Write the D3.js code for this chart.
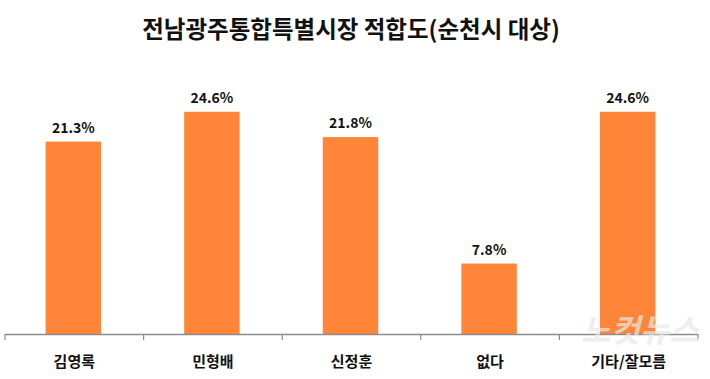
<!DOCTYPE html>
<html>
<head>
<meta charset="utf-8">
<script src="https://cdn.jsdelivr.net/npm/d3@7"></script>
<style>
  body { margin: 0; background: #fff; }
  text { font-family: "Noto Sans CJK KR", "Noto Sans", sans-serif; }
</style>
</head>
<body>
<script>
let categories = ["김영록", "민형배", "신정훈", "없다", "기타/잘모름"];
let values = [21.3, 24.6, 21.8, 7.8, 24.6];
let titleText = "전남광주통합특별시장 적합도(순천시 대상)";

let width = 710,
    height = 379;

const svg = d3.select("body")
    .append("svg")
    .attr("width", width)
    .attr("height", height);

const xScale = d3.scaleBand()
    .domain(categories)
    .range([5, 698])
    .paddingInner(0.6)
    .paddingOuter(0.3);

const yScale = d3.scaleLinear()
    .domain([0, 30])
    .range([334, 63]);

// title
svg.append("text")
    .attr("x", 351)
    .attr("y", 38)
    .attr("text-anchor", "middle")
    .style("font-size", "23.5px")
    .style("font-weight", "bold")
    .style("fill", "#111")
    .text(titleText);

// bars
svg.selectAll("rect.bar")
    .data(values)
    .enter()
    .append("rect")
    .attr("class", "bar")
    .attr("x", (d, i) => xScale(categories[i]) - 1)
    .attr("y", d => yScale(d))
    .attr("width", xScale.bandwidth())
    .attr("height", d => yScale(0) - yScale(d))
    .attr("fill", "#FF8638");

// value labels
svg.selectAll("text.val")
    .data(values)
    .enter()
    .append("text")
    .attr("class", "val")
    .attr("x", (d, i) => xScale(categories[i]) - 1 + xScale.bandwidth() / 2)
    .attr("y", d => yScale(d) - 9)
    .attr("text-anchor", "middle")
    .style("font-size", "14px")
    .style("font-weight", "bold")
    .style("fill", "#111")
    .text(d => d.toFixed(1) + "%");

// axis with tick marks between categories
const axisG = svg.append("g")
    .attr("transform", "translate(0," + yScale(0) + ")");

axisG.append("line")
    .attr("x1", 5).attr("x2", 698)
    .attr("y1", 0.5).attr("y2", 0.5)
    .attr("stroke", "#8c8c8c")
    .attr("stroke-width", 1.5);

const edges = d3.range(categories.length + 1).map(i => 5 + i * (693 / categories.length));
axisG.selectAll("line.tick")
    .data(edges)
    .enter()
    .append("line")
    .attr("class", "tick")
    .attr("x1", d => d).attr("x2", d => d)
    .attr("y1", 0).attr("y2", 6)
    .attr("stroke", "#8c8c8c")
    .attr("stroke-width", 1.2);

axisG.selectAll("text.cat")
    .data(categories)
    .enter()
    .append("text")
    .attr("class", "cat")
    .attr("x", d => xScale(d) + xScale.bandwidth() / 2)
    .attr("y", 33)
    .attr("text-anchor", "middle")
    .style("font-size", "15px")
    .style("font-weight", "bold")
    .style("fill", "#111")
    .text(d => d);

// watermark
svg.append("text")
    .attr("x", 640)
    .attr("y", 342)
    .attr("text-anchor", "middle")
    .style("font-size", "32px")
    .style("font-weight", "bold")
    .style("font-style", "italic")
    .style("fill", "#e8e8e8")
    .style("opacity", 0.7)
    .text("노컷뉴스");
</script>
</body>
</html>
